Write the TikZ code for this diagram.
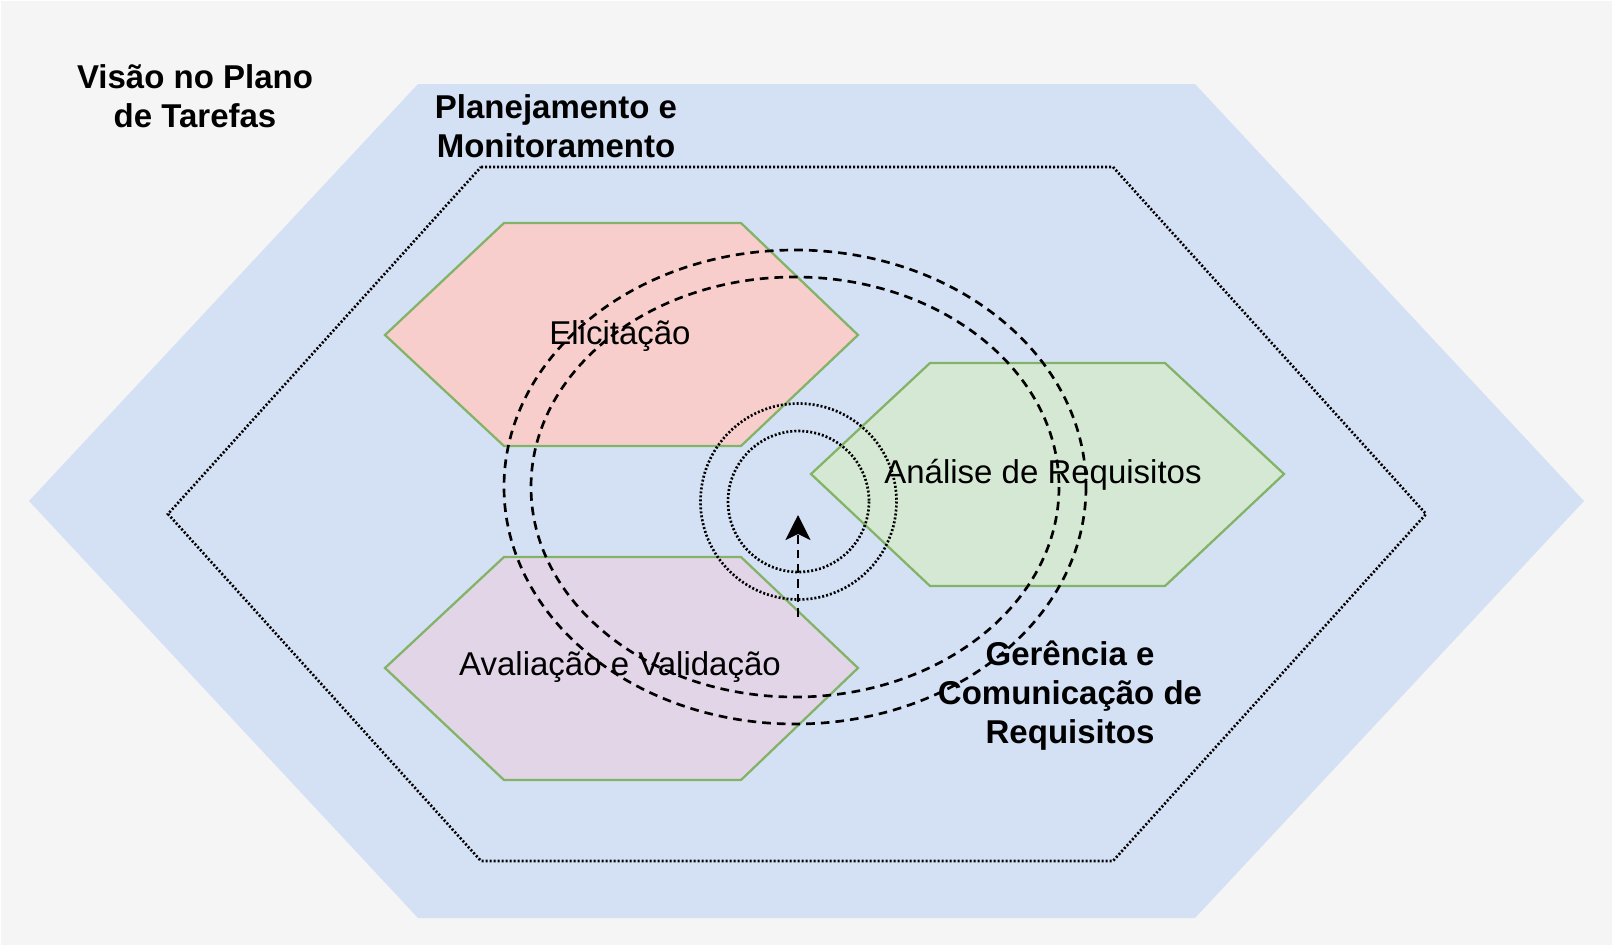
\documentclass[tikz,border=0pt]{standalone}
\usepackage{fontspec}
\setmainfont{Liberation Sans}
\usetikzlibrary{arrows.meta}

\definecolor{pageGrey}{RGB}{245,245,245}
\definecolor{planBlue}{RGB}{212,225,245}
\definecolor{eliRed}{RGB}{248,206,204}
\definecolor{avaPurple}{RGB}{225,213,231}
\definecolor{anaGreen}{RGB}{213,232,212}
\definecolor{edgeGreen}{RGB}{130,179,102}

\tikzset{every picture/.style={line width=0.75pt}}
\tikzset{
  phase/.style={draw=edgeGreen, line width=1.7pt, line join=miter},
  dotline/.style={line width=2pt, dash pattern=on 1.5pt off 1.5pt},
  dashline/.style={line width=2pt, dash pattern=on 6.5pt off 4.5pt},
  bigtxt/.style={inner sep=0pt, font=\fontsize{24.75pt}{29.25pt}\selectfont},
  boldtxt/.style={bigtxt, align=center, font=\fontsize{24.75pt}{29.25pt}\selectfont\bfseries},
}

\begin{document}
\begin{tikzpicture}[x=0.75pt,y=0.75pt,yscale=-1,xscale=1]
\useasboundingbox (0,0) rectangle (1617,950);

%Shape: Rectangle [id:background] 
\fill [white] (0,0) rectangle (1617,950);
\fill [pageGrey] (1,1) rectangle (1612,945);
%Shape: Hexagon [id:planning] 
\fill [planBlue] (418,84) -- (1195,84) -- (1584,501) -- (1195,918) -- (418,918) -- (29,501) -- cycle ;
%Shape: Hexagon [id:management] 
\draw [dotline] (481,167) -- (1113,167) -- (1426,514) -- (1113,861) -- (481,861) -- (168,514) -- cycle ;
%Shape: Hexagon [id:elicitation] 
\draw [phase, fill=eliRed] (504,223) -- (741,223) -- (858,335) -- (741,446) -- (504,446) -- (385,335) -- cycle ;
%Shape: Hexagon [id:validation] 
\draw [phase, fill=avaPurple] (504,557) -- (741,557) -- (858,668) -- (741,780) -- (504,780) -- (385,668) -- cycle ;
%Shape: Hexagon [id:analysis] 
\draw [phase, fill=anaGreen] (930,363) -- (1165,363) -- (1284,474) -- (1165,586) -- (930,586) -- (811,474) -- cycle ;

% Text Node
\node (eliTxt) [bigtxt, anchor=base] at (620,344) {Elicitação};
% Text Node
\node (avaTxt) [bigtxt, anchor=base] at (620,675) {Avaliação e Validação};
% Text Node
\node (anaTxt) [bigtxt, anchor=base] at (1043,483) {Análise de Requisitos};

%Shape: Ellipse [id:cycleOuter] 
\draw [dashline] (795,487) ellipse [x radius=291, y radius=237];
%Shape: Ellipse [id:cycleInner] 
\draw [dashline] (795,487) ellipse [x radius=264, y radius=210];
%Shape: Circle [id:coreOuter] 
\draw [dotline] (798.5,501.5) circle [radius=98];
%Shape: Circle [id:coreInner] 
\draw [dotline] (798.5,501.5) circle [radius=70.5];

%Straight Lines [id:progress] 
\coordinate (arrStart) at (798,617);
\coordinate (arrEnd) at (798,515);
\draw [dashline, -{Stealth[length=18.75pt, width=18.75pt, inset=4.5pt]}] (arrStart) -- (arrEnd);

% Text Node
\node (visTxt) [boldtxt] at (195,96.5) {Visão no Plano\\de Tarefas};
% Text Node
\node (planTxt) [boldtxt] at (556,126.5) {Planejamento e\\Monitoramento};
% Text Node
\node (gerTxt) [boldtxt] at (1070,695.5) {Gerência e\\Comunicação de\\Requisitos};
\end{tikzpicture}
\end{document}
